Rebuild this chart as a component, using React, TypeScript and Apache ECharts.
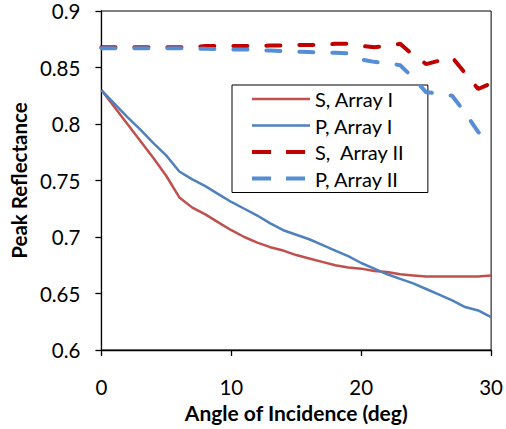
import React, { useEffect, useRef } from "react";
import * as echarts from "echarts";

const angles = [0, 1, 2, 3, 4, 5, 6, 7, 8, 9, 10, 11, 12, 13, 14, 15, 16, 17, 18, 19, 20, 21, 22, 23, 24, 25, 26, 27, 28, 29, 30];

const sArrayI = [0.830, 0.815, 0.800, 0.785, 0.770, 0.754, 0.735, 0.726, 0.720, 0.713, 0.706, 0.700, 0.695, 0.691, 0.688, 0.684, 0.681, 0.678, 0.675, 0.673, 0.672, 0.670, 0.669, 0.667, 0.666, 0.665, 0.665, 0.665, 0.665, 0.665, 0.666];
const pArrayI = [0.830, 0.818, 0.806, 0.795, 0.783, 0.772, 0.758, 0.751, 0.745, 0.738, 0.731, 0.725, 0.719, 0.712, 0.706, 0.702, 0.698, 0.693, 0.688, 0.683, 0.677, 0.672, 0.667, 0.663, 0.659, 0.654, 0.649, 0.644, 0.638, 0.635, 0.629];
const sArrayII = [0.868, 0.868, 0.868, 0.868, 0.868, 0.868, 0.868, 0.868, 0.869, 0.869, 0.869, 0.869, 0.869, 0.8695, 0.8695, 0.870, 0.870, 0.870, 0.871, 0.871, 0.869, 0.868, 0.869, 0.871, 0.861, 0.853, 0.856, 0.859, 0.845, 0.831, 0.836];
const pArrayII = [0.867, 0.867, 0.867, 0.867, 0.867, 0.867, 0.867, 0.8668, 0.8665, 0.8663, 0.866, 0.866, 0.8655, 0.865, 0.8645, 0.864, 0.8637, 0.8633, 0.863, 0.8625, 0.857, 0.855, 0.854, 0.852, 0.841, 0.828, 0.827, 0.825, 0.810, 0.793, 0.784];

const seriesNames = ["S, Array I", "P, Array I", "S,  Array II", "P, Array II"];
const seriesColors = ["#C0504D", "#4F81BD", "#C00000", "#558ED5"];
const xTicks = { min: 0, max: 30, interval: 10 };
const yTicks = { min: 0.6, max: 0.9, interval: 0.05 };

const FONT = "Lato";

export default function App() {
  const ref = useRef<HTMLDivElement>(null);
  useEffect(() => {
    if (!ref.current) return;
    const chart = echarts.init(ref.current, null, { renderer: "svg" });
    const pairs = (vals: number[]) => angles.map((a, i) => [a, vals[i]]);
    const dashed = [false, false, true, true];
    chart.setOption({
      animation: false,
      backgroundColor: "#fff",
      textStyle: { fontFamily: FONT },
      grid: {
        left: 101,
        right: 11,
        top: 11,
        bottom: 79,
        show: true,
        borderColor: "#000",
        borderWidth: 1,
      },
      legend: {
        orient: "vertical",
        left: 232,
        top: 85,
        data: seriesNames.map((n, i) => ({
          name: n,
          lineStyle: dashed[i]
            ? { color: seriesColors[i], width: 4, type: [19, 15], cap: "butt" }
            : { color: seriesColors[i], width: 2.5, type: "solid" },
        })),
        borderColor: "#000",
        borderWidth: 1,
        padding: [4, 23, 4, 18],
        itemWidth: 58,
        itemHeight: 20,
        itemGap: 6.5,
        backgroundColor: "#fff",
        itemStyle: { opacity: 0 },
        textStyle: { fontFamily: FONT, fontSize: 20, color: "#000", lineHeight: 20 },
      },
      xAxis: {
        type: "value",
        min: xTicks.min,
        max: xTicks.max,
        interval: xTicks.interval,
        name: "Angle of Incidence (deg)",
        nameLocation: "middle",
        nameGap: 46,
        nameTextStyle: { fontFamily: FONT, fontSize: 21, fontWeight: "bold", color: "#000" },
        axisLine: { lineStyle: { color: "#000", width: 1.3 } },
        axisTick: { inside: false, length: 6, lineStyle: { color: "#000", width: 1.3 } },
        axisLabel: { margin: 26, fontFamily: FONT, fontSize: 20.5, color: "#000" },
        splitLine: { show: false },
      },
      yAxis: {
        type: "value",
        min: yTicks.min,
        max: yTicks.max,
        interval: yTicks.interval,
        name: "Peak Reflectance",
        nameLocation: "middle",
        nameGap: 70,
        nameRotate: 90,
        nameTextStyle: { fontFamily: FONT, fontSize: 20.5, fontWeight: "bold", color: "#000" },
        axisLine: { show: true, lineStyle: { color: "#000", width: 1.3 } },
        axisTick: { show: true, inside: false, length: 6, lineStyle: { color: "#000", width: 1.3 } },
        axisLabel: { margin: 21, fontFamily: FONT, fontSize: 20.5, color: "#000" },
        splitLine: { show: false },
      },
      series: [
        {
          name: seriesNames[0],
          type: "line",
          data: pairs(sArrayI),
          symbol: "none",
          color: seriesColors[0],
          lineStyle: { color: seriesColors[0], width: 2.5 },
          z: 3,
        },
        {
          name: seriesNames[1],
          type: "line",
          data: pairs(pArrayI),
          symbol: "none",
          color: seriesColors[1],
          lineStyle: { color: seriesColors[1], width: 2.5 },
          z: 4,
        },
        {
          name: seriesNames[2],
          type: "line",
          data: pairs(sArrayII),
          symbol: "none",
          color: seriesColors[2],
          lineStyle: { color: seriesColors[2], width: 4, type: [14, 19], cap: "round" },
          z: 3,
        },
        {
          name: seriesNames[3],
          type: "line",
          data: pairs(pArrayII),
          symbol: "none",
          color: seriesColors[3],
          lineStyle: { color: seriesColors[3], width: 4, type: [14, 19], cap: "round" },
          z: 4,
        },
      ],
    });
    return () => chart.dispose();
  }, []);
  return <div ref={ref} style={{ width: 506, height: 429, position: "absolute", left: 0, top: 0 }} />;
}
